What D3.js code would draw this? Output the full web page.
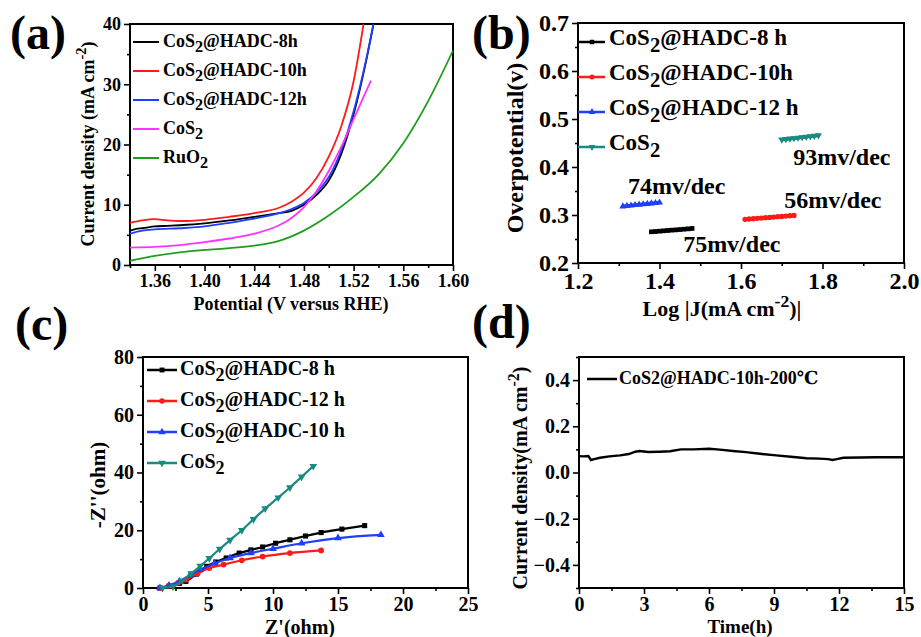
<!DOCTYPE html>
<html>
<head>
<meta charset="utf-8">
<script src="https://cdn.jsdelivr.net/npm/d3@7"></script>
<style>
  body { margin: 0; background: #fff; }
  svg text { font-family: "Liberation Serif", "Times New Roman", "DejaVu Serif", serif !important; font-weight: bold; fill: #000; }
</style>
</head>
<body>
<svg id="chart" width="921" height="637"></svg>
<script>
// ---- panel (a): LSV curves, [potential V, current density mA cm-2]
const lsv8h  = [[1.34,5.7],[1.345,6.0],[1.35,6.1],[1.36,6.4],[1.37,6.5],[1.38,6.6],[1.40,6.9],[1.42,7.4],[1.44,8.0],[1.46,8.6],[1.47,9.0],[1.48,10.0],[1.49,11.6],[1.50,14.0],[1.51,18.4],[1.52,25.0],[1.53,33.8],[1.536,40]];
const lsv10h = [[1.34,7.0],[1.35,7.4],[1.36,7.6],[1.37,7.4],[1.38,7.3],[1.40,7.5],[1.42,8.0],[1.44,8.6],[1.46,9.5],[1.47,10.5],[1.48,12.0],[1.49,14.4],[1.50,18.0],[1.51,23.0],[1.52,30.5],[1.528,40]];
const lsv12h = [[1.34,5.2],[1.35,5.7],[1.36,5.9],[1.38,6.1],[1.40,6.4],[1.42,7.0],[1.44,7.7],[1.46,8.6],[1.47,9.3],[1.48,10.3],[1.49,12.0],[1.50,14.6],[1.51,19.0],[1.52,25.5],[1.53,34.0],[1.536,40]];
const lsvCoS2 = [[1.34,2.9],[1.36,3.0],[1.38,3.3],[1.40,3.8],[1.42,4.4],[1.44,5.2],[1.46,6.6],[1.47,7.8],[1.48,9.6],[1.49,12.2],[1.50,15.6],[1.51,19.6],[1.52,24.2],[1.53,28.8],[1.534,30.6]];
const lsvRuO2 = [[1.34,0.7],[1.36,1.5],[1.38,2.1],[1.40,2.5],[1.42,2.8],[1.44,3.2],[1.46,4.0],[1.48,5.7],[1.50,8.2],[1.52,11.3],[1.54,15.0],[1.56,20.2],[1.58,27.2],[1.60,35.6]];
const lsvNames = ["CoS~2~@HADC-8h", "CoS~2~@HADC-10h", "CoS~2~@HADC-12h", "CoS~2~", "RuO~2~"];

// ---- panel (b): Tafel, [log|J|, overpotential V]
const tafel8h  = [[1.38,0.265],[1.39,0.2656],[1.40,0.2663],[1.41,0.267],[1.42,0.2677],[1.43,0.2684],[1.44,0.269],[1.45,0.2697],[1.46,0.2704],[1.47,0.2711],[1.48,0.272]];
const tafel10h = [[1.61,0.291],[1.62,0.2917],[1.63,0.2924],[1.64,0.293],[1.65,0.2937],[1.66,0.2944],[1.67,0.295],[1.68,0.2957],[1.69,0.2964],[1.70,0.297],[1.71,0.2977],[1.72,0.2984],[1.73,0.299]];
const tafel12h = [[1.31,0.318],[1.32,0.3189],[1.33,0.3198],[1.34,0.3207],[1.35,0.3216],[1.36,0.3224],[1.37,0.3232],[1.38,0.3241],[1.39,0.325],[1.40,0.326]];
const tafelCoS2 = [[1.70,0.457],[1.71,0.458],[1.72,0.459],[1.73,0.460],[1.74,0.461],[1.75,0.462],[1.76,0.4629],[1.77,0.4638],[1.78,0.4648],[1.79,0.466]];
const tafelNames = ["CoS~2~@HADC-8 h", "CoS~2~@HADC-10h", "CoS~2~@HADC-12 h", "CoS~2~"];
const tafelSlopes = [[1.323,0.344,"74mv/dec"],[1.728,0.404,"93mv/dec"],[1.706,0.315,"56mv/dec"],[1.458,0.223,"75mv/dec"]];

// ---- panel (c): Nyquist, [Z' ohm, -Z'' ohm]
const eis8h  = [[1.3,0],[2.0,0.6],[2.8,1.6],[3.3,2.3],[4.1,4.8],[4.9,7.5],[5.6,9.0],[6.4,10.4],[7.4,12.1],[8.3,13.2],[9.2,14.2],[10.2,15.5],[11.3,16.7],[12.5,18.0],[13.7,19.2],[15.3,20.4],[17.05,21.6]];
const eis12h = [[1.3,0],[2.0,0.8],[2.7,1.8],[3.3,2.9],[4.2,5.0],[5.1,6.9],[6.2,8.1],[7.6,9.6],[9.2,10.9],[11.3,12.1],[13.7,13.0]];
const eis10h = [[1.3,0],[2.0,0.9],[2.8,2.3],[3.6,4.3],[4.4,6.3],[5.5,8.5],[6.7,10.4],[8.3,12.1],[10.0,13.6],[12.2,15.5],[15.0,17.3],[18.3,18.4]];
const eisCoS2 = [[1.5,0],[2.3,0.5],[3.0,2.5],[3.7,5.0],[4.4,7.6],[5.1,10.3],[5.9,13.5],[6.7,16.6],[7.6,20.0],[8.5,23.8],[9.4,27.5],[10.4,31.3],[11.3,34.8],[12.2,38.5],[13.1,42.2]];
const eisNames = ["CoS~2~@HADC-8 h", "CoS~2~@HADC-12 h", "CoS~2~@HADC-10 h", "CoS~2~"];

// ---- panel (d): stability, [time h, current density]
const stability = [[0,0.071],[0.2,0.070],[0.43,0.071],[0.5,0.062],[0.55,0.054],[0.7,0.058],[0.97,0.064],[1.4,0.070],[1.9,0.074],[2.3,0.080],[2.6,0.090],[2.8,0.093],[3.2,0.089],[3.7,0.090],[4.2,0.092],[4.7,0.100],[5.3,0.100],[6.0,0.103],[6.5,0.099],[7.1,0.093],[7.7,0.088],[8.35,0.081],[9.1,0.074],[9.9,0.067],[10.5,0.062],[11.1,0.060],[11.5,0.058],[11.7,0.054],[11.9,0.058],[12.2,0.064],[13.0,0.065],[13.7,0.066],[14.4,0.066],[15,0.066]];
const stabilityName = "CoS2@HADC-10h-200℃";

const svg = d3.select("#chart");
svg.append("rect").attr("width", 921).attr("height", 637).attr("fill", "#fff");

// text with sub/superscripts: "CoS~2~" -> subscript, "^-2^" -> superscript
function rich(t, str, size) {
  let shift = 0;
  const parts = str.split(/(~[^~]*~|\^[^^]*\^)/).filter(s => s.length);
  parts.forEach(p => {
    let s = 0, txt = p, fs = size;
    if (p[0] === "~") { s = 0.3 * size; txt = p.slice(1, -1); fs = size * 0.9; }
    else if (p[0] === "^") { s = -0.42 * size; txt = p.slice(1, -1); fs = size * 0.8; }
    t.append("tspan").attr("dy", s - shift).attr("font-size", fs).text(txt);
    shift = s;
  });
  return t;
}

function panel(o) {
  const g = svg.append("g").attr("transform", `translate(${o.x},${o.y})`);
  const x = d3.scaleLinear().domain(o.xd).range([0, o.w]);
  const y = d3.scaleLinear().domain(o.yd).range([o.h, 0]);

  g.append("g").attr("transform", `translate(0,${o.h})`)
    .call(d3.axisBottom(x).tickValues(o.xt).tickFormat(o.xf).tickSize(6).tickPadding(3).tickSizeOuter(0));
  g.append("g").attr("transform", `translate(0,${o.h})`)
    .call(d3.axisBottom(x).tickValues(o.xm).tickFormat("").tickSize(3).tickSizeOuter(0));
  g.append("g")
    .call(d3.axisLeft(y).tickValues(o.yt).tickFormat(o.yf).tickSize(6).tickPadding(3).tickSizeOuter(0));
  g.append("g")
    .call(d3.axisLeft(y).tickValues(o.ym).tickFormat("").tickSize(3).tickSizeOuter(0));
  g.selectAll(".domain").remove();
  g.selectAll("g").attr("font-family", null).attr("font-size", null);
  g.selectAll(".tick line").attr("stroke", "#000").attr("stroke-width", 1.6);
  g.selectAll(".tick text").attr("font-size", o.fs).attr("fill", "#000");

  g.append("rect").attr("width", o.w).attr("height", o.h)
    .attr("fill", "none").attr("stroke", "#000").attr("stroke-width", 2);
  return { g, x, y };
}

const sym = (type, size) => d3.symbol().type(type).size(size)();

// ================= (a)
{
  const p = panel({ x: 130, y: 24, w: 323, h: 241, xd: [1.34, 1.60], yd: [0, 40],
    xt: [1.36, 1.40, 1.44, 1.48, 1.52, 1.56, 1.60], xm: [1.34, 1.38, 1.42, 1.46, 1.50, 1.54, 1.58],
    yt: [0, 10, 20, 30, 40], ym: [5, 15, 25, 35], xf: d3.format(".2f"), yf: d3.format("d"), fs: 18 });
  const series = [lsv8h, lsv10h, lsv12h, lsvCoS2, lsvRuO2];
  const colors = ["#000", "#ff1a1a", "#1f3fff", "#ff33ff", "#1e9e1e"];
  const line = d3.line().x(d => p.x(d[0])).y(d => p.y(d[1])).curve(d3.curveMonotoneX);
  p.g.append("clipPath").attr("id", "clipA").append("rect").attr("width", 323).attr("height", 241);
  series.forEach((s, i) => {
    p.g.append("path").datum(s).attr("d", line).attr("fill", "none")
      .attr("stroke", colors[i]).attr("stroke-width", 1.8).attr("clip-path", "url(#clipA)");
  });
  lsvNames.forEach((n, i) => {
    const yy = 18 + i * 29;
    p.g.append("line").attr("x1", 3).attr("x2", 29).attr("y1", yy).attr("y2", yy)
      .attr("stroke", colors[i]).attr("stroke-width", 2);
    rich(p.g.append("text").attr("x", 33).attr("y", yy + 5).attr("font-size", 18), n, 18);
  });
  rich(svg.append("text").attr("x", 291).attr("y", 310).attr("text-anchor", "middle").attr("font-size", 18),
    "Potential (V versus RHE)", 18);
  rich(svg.append("text").attr("transform", "translate(94,144) rotate(-90)").attr("text-anchor", "middle").attr("font-size", 18),
    "Current density (mA cm^-2^)", 18);
}

// ================= (b)
{
  const p = panel({ x: 578, y: 23, w: 326, h: 240, xd: [1.2, 2.0], yd: [0.2, 0.7],
    xt: [1.2, 1.4, 1.6, 1.8, 2.0], xm: [1.3, 1.5, 1.7, 1.9],
    yt: [0.2, 0.3, 0.4, 0.5, 0.6, 0.7], ym: [0.25, 0.35, 0.45, 0.55, 0.65],
    xf: d3.format(".1f"), yf: d3.format(".1f"), fs: 24 });
  const series = [tafel8h, tafel10h, tafel12h, tafelCoS2];
  const colors = ["#000", "#ff1a1a", "#1f3fff", "#1a8a80"];
  const shapes = [d3.symbolSquare, d3.symbolCircle, d3.symbolTriangle, d3.symbolTriangle];
  const rot = [0, 0, 0, 180];
  const line = d3.line().x(d => p.x(d[0])).y(d => p.y(d[1]));
  series.forEach((s, i) => {
    p.g.append("path").datum(s).attr("d", line).attr("fill", "none")
      .attr("stroke", colors[i]).attr("stroke-width", 3.5);
    p.g.selectAll(null).data(s).enter().append("path")
      .attr("d", sym(shapes[i], 22))
      .attr("transform", d => `translate(${p.x(d[0])},${p.y(d[1])}) rotate(${rot[i]})`)
      .attr("fill", colors[i]);
  });
  tafelSlopes.forEach(d => {
    p.g.append("text").attr("x", p.x(d[0])).attr("y", p.y(d[1])).attr("font-size", 24).text(d[2]);
  });
  tafelNames.forEach((n, i) => {
    const yy = 19 + i * 35;
    p.g.append("line").attr("x1", 0).attr("x2", 27).attr("y1", yy).attr("y2", yy)
      .attr("stroke", colors[i]).attr("stroke-width", 2.5);
    p.g.append("path").attr("d", sym(shapes[i], 20))
      .attr("transform", `translate(14,${yy}) rotate(${rot[i]})`).attr("fill", colors[i]);
    rich(p.g.append("text").attr("x", 31).attr("y", yy + 3).attr("font-size", 23), n, 23);
  });
  rich(svg.append("text").attr("x", 722).attr("y", 316).attr("text-anchor", "middle").attr("font-size", 22),
    "Log |J(mA cm^-2^)|", 22);
  rich(svg.append("text").attr("transform", "translate(523,148) rotate(-90)").attr("text-anchor", "middle").attr("font-size", 24),
    "Overpotential(v)", 24);
}

// ================= (c)
{
  const p = panel({ x: 143, y: 357, w: 325, h: 231, xd: [0, 25], yd: [0, 80],
    xt: [0, 5, 10, 15, 20, 25], xm: [2.5, 7.5, 12.5, 17.5, 22.5],
    yt: [0, 20, 40, 60, 80], ym: [10, 30, 50, 70],
    xf: d3.format("d"), yf: d3.format("d"), fs: 20 });
  const series = [eis8h, eis12h, eis10h, eisCoS2];
  const colors = ["#000", "#ff1a1a", "#1f3fff", "#1a8a80"];
  const shapes = [d3.symbolSquare, d3.symbolCircle, d3.symbolTriangle, d3.symbolTriangle];
  const rot = [0, 0, 0, 180];
  const line = d3.line().x(d => p.x(d[0])).y(d => p.y(d[1])).curve(d3.curveMonotoneX);
  series.forEach((s, i) => {
    p.g.append("path").datum(s).attr("d", line).attr("fill", "none")
      .attr("stroke", colors[i]).attr("stroke-width", 2.2);
    p.g.selectAll(null).data(s).enter().append("path")
      .attr("d", sym(shapes[i], 26))
      .attr("transform", d => `translate(${p.x(d[0])},${p.y(d[1])}) rotate(${rot[i]})`)
      .attr("fill", colors[i]);
  });
  eisNames.forEach((n, i) => {
    const yy = 13 + i * 31;
    p.g.append("line").attr("x1", 4).attr("x2", 34).attr("y1", yy).attr("y2", yy)
      .attr("stroke", colors[i]).attr("stroke-width", 2.5);
    p.g.append("path").attr("d", sym(shapes[i], 24))
      .attr("transform", `translate(19,${yy}) rotate(${rot[i]})`).attr("fill", colors[i]);
    rich(p.g.append("text").attr("x", 37).attr("y", yy + 5).attr("font-size", 20), n, 20);
  });
  svg.append("text").attr("x", 300).attr("y", 634).attr("text-anchor", "middle").attr("font-size", 20).text("Z'(ohm)");
  svg.append("text").attr("transform", "translate(105,485) rotate(-90)").attr("text-anchor", "middle")
    .attr("font-size", 21).text("-Z''(ohm)");
}

// ================= (d)
{
  const p = panel({ x: 579, y: 357, w: 325, h: 231, xd: [0, 15], yd: [-0.5, 0.5],
    xt: [0, 3, 6, 9, 12, 15], xm: [1.5, 4.5, 7.5, 10.5, 13.5],
    yt: [-0.4, -0.2, 0, 0.2, 0.4], ym: [-0.5, -0.3, -0.1, 0.1, 0.3, 0.5],
    xf: d3.format("d"), yf: d3.format(".1f"), fs: 20 });
  const line = d3.line().x(d => p.x(d[0])).y(d => p.y(d[1]));
  p.g.append("path").datum(stability).attr("d", line).attr("fill", "none")
    .attr("stroke", "#000").attr("stroke-width", 2.4);
  p.g.append("line").attr("x1", 8).attr("x2", 38).attr("y1", 22).attr("y2", 22)
    .attr("stroke", "#000").attr("stroke-width", 2.5);
  p.g.append("text").attr("x", 40).attr("y", 27).attr("font-size", 18).text(stabilityName);
  svg.append("text").attr("x", 740).attr("y", 633).attr("text-anchor", "middle").attr("font-size", 19).text("Time(h)");
  rich(svg.append("text").attr("transform", "translate(527,478) rotate(-90)").attr("text-anchor", "middle").attr("font-size", 20),
    "Current density(mA cm^-2^)", 20);
}

// panel letters
[["(a)", 10, 49], ["(b)", 472, 49], ["(c)", 15, 340], ["(d)", 472, 338]].forEach(d => {
  svg.append("text").attr("x", d[1]).attr("y", d[2]).attr("font-size", 48).text(d[0]);
});
</script>
</body>
</html>
